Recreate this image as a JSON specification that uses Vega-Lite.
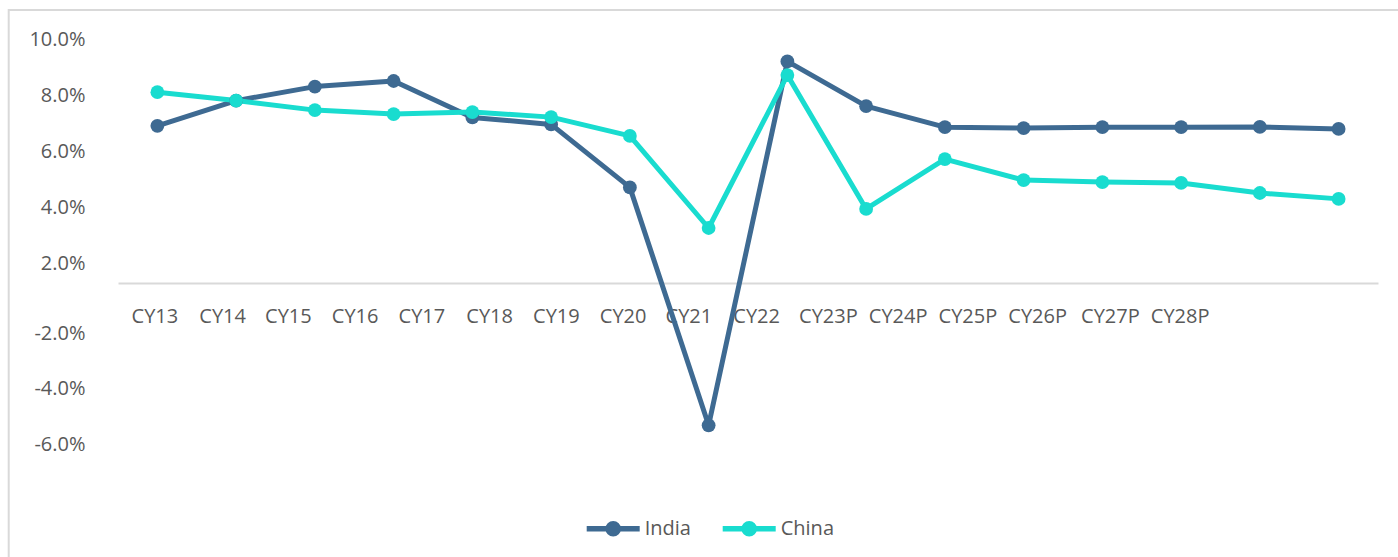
{
  "$schema": "https://vega.github.io/schema/vega-lite/v6.json",
  "width": 1400,
  "height": 558,
  "autosize": "none",
  "padding": {"left": 8.7, "top": 10, "right": -10.7, "bottom": -11},
  "background": "white",
  "config": {
    "view": {"stroke": "#d9d9d9", "strokeWidth": 2},
    "font": "Open Sans",
    "axis": {"labelFont": "Open Sans", "labelFontSize": 20, "labelColor": "#595959", "grid": false, "ticks": false, "tickSize": 0, "title": null},
    "legend": {"labelFont": "Open Sans", "labelFontSize": 20, "labelColor": "#595959"}
  },
  "data": {"values": [
    {"year": "CY13", "country": "India", "growth": 6.9},
    {"year": "CY14", "country": "India", "growth": 7.8},
    {"year": "CY15", "country": "India", "growth": 8.3},
    {"year": "CY16", "country": "India", "growth": 8.5},
    {"year": "CY17", "country": "India", "growth": 7.2},
    {"year": "CY18", "country": "India", "growth": 6.95},
    {"year": "CY19", "country": "India", "growth": 4.7},
    {"year": "CY20", "country": "India", "growth": -5.3},
    {"year": "CY21", "country": "India", "growth": 9.2},
    {"year": "CY22", "country": "India", "growth": 7.6},
    {"year": "CY23P", "country": "India", "growth": 6.85},
    {"year": "CY24P", "country": "India", "growth": 6.82},
    {"year": "CY25P", "country": "India", "growth": 6.85},
    {"year": "CY26P", "country": "India", "growth": 6.85},
    {"year": "CY27P", "country": "India", "growth": 6.86},
    {"year": "CY28P", "country": "India", "growth": 6.79},
    {"year": "CY13", "country": "China", "growth": 8.1},
    {"year": "CY14", "country": "China", "growth": 7.8},
    {"year": "CY15", "country": "China", "growth": 7.46},
    {"year": "CY16", "country": "China", "growth": 7.32},
    {"year": "CY17", "country": "China", "growth": 7.39},
    {"year": "CY18", "country": "China", "growth": 7.21},
    {"year": "CY19", "country": "China", "growth": 6.54},
    {"year": "CY20", "country": "China", "growth": 3.25},
    {"year": "CY21", "country": "China", "growth": 8.71},
    {"year": "CY22", "country": "China", "growth": 3.93},
    {"year": "CY23P", "country": "China", "growth": 5.71},
    {"year": "CY24P", "country": "China", "growth": 4.96},
    {"year": "CY25P", "country": "China", "growth": 4.89},
    {"year": "CY26P", "country": "China", "growth": 4.86},
    {"year": "CY27P", "country": "China", "growth": 4.5},
    {"year": "CY28P", "country": "China", "growth": 4.29}
  ]},
  "encoding": {
    "x": {
      "field": "year", "type": "nominal", "sort": null,
      "scale": {"type": "point", "padding": 0.5, "range": [109.3, 1369.3]},
      "axis": {
        "labelAngle": 0,
        "domain": true, "domainColor": "#d9d9d9", "domainWidth": 2,
        "offset": -285,
        "labelPadding": 23,
        "labelBaseline": "top",
        "labelOffset": {"expr": "[-3,-14,-27,-39,-51,-62,-74,-86,-99,-110,-117,-126,-135,-144,-150,-159][indexof(['CY13','CY14','CY15','CY16','CY17','CY18','CY19','CY20','CY21','CY22','CY23P','CY24P','CY25P','CY26P','CY27P','CY28P'], datum.value)]"}
      }
    },
    "y": {
      "field": "growth", "type": "quantitative",
      "scale": {"domain": [-7.29, -2, 0, 2, 10.5], "range": [471, 323, 273, 253, 15], "zero": false, "nice": false},
      "axis": {
        "domain": false,
        "values": [10, 8, 6, 4, 2, -2, -4, -6],
        "labelExpr": "(datum.value < 0 ? '-' : '') + format(abs(datum.value), '.1f') + '%'",
        "labelPadding": -76.3
      }
    },
    "color": {
      "field": "country", "type": "nominal",
      "scale": {"domain": ["India", "China"], "range": ["#3e6a92", "#19dccf"]},
      "legend": {
        "title": null,
        "orient": "none",
        "legendX": 575,
        "legendY": 489,
        "direction": "horizontal",
        "symbolType": "M-1,0L1,0M0.19,0A0.19,0.19,0,1,1,-0.19,0A0.19,0.19,0,1,1,0.19,0Z",
        "symbolSize": 2809,
        "symbolStrokeWidth": 5.5,
        "labelOffset": 2,
        "columnPadding": 20
      }
    }
  },
  "layer": [
    {"mark": {"type": "line", "strokeWidth": 5, "strokeJoin": "round", "strokeCap": "round"}},
    {"mark": {"type": "circle", "size": 190, "opacity": 1}}
  ]
}
